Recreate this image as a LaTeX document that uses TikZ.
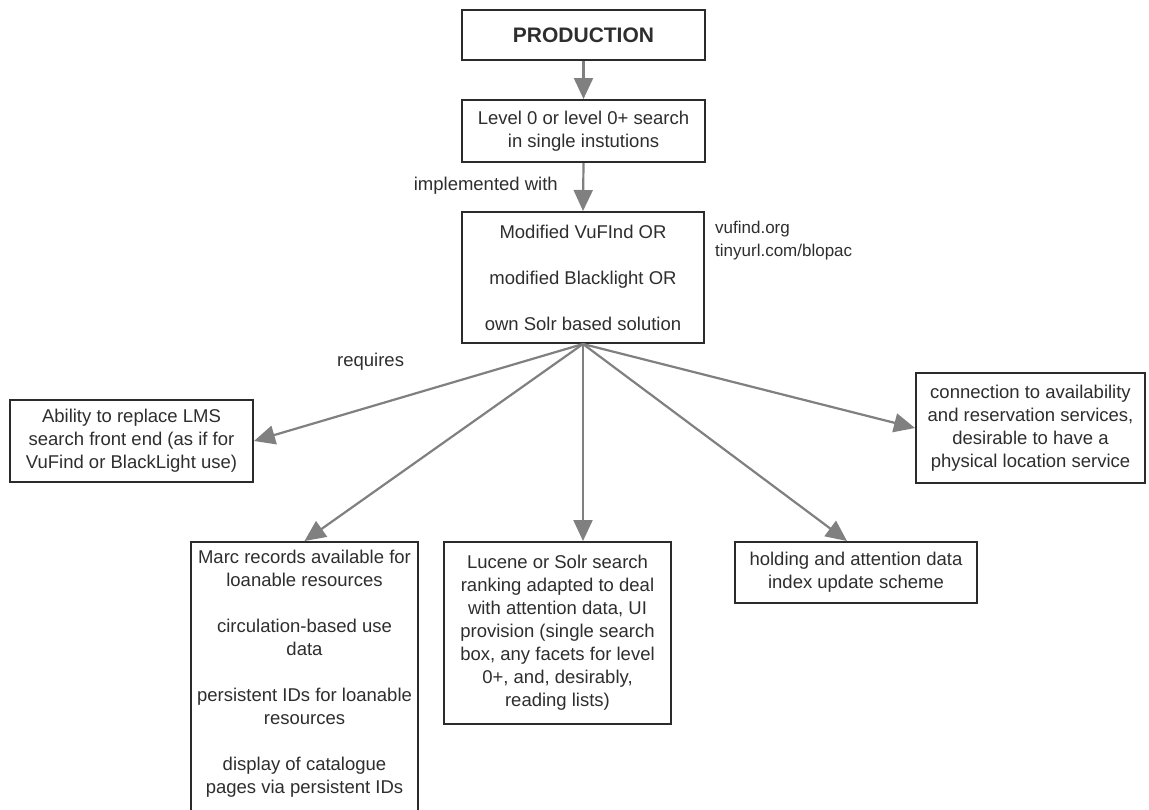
\documentclass[tikz,border=0pt]{standalone}
\usepackage{fontspec}
\setmainfont{Liberation Sans}
\usetikzlibrary{arrows.meta,calc}
\definecolor{txt}{HTML}{2E2E2E}
\definecolor{edge}{HTML}{2B2B2B}
\definecolor{arr}{HTML}{808080}
\tikzset{
 box/.style={draw=edge, line width=2pt, fill=white, align=center, inner sep=0pt, text=txt, font=\fontsize{18.5}{23}\selectfont},
 conn/.style={draw=arr, line width=2.2pt, -{Triangle[length=21pt,width=19pt]}},
 lbl/.style={text=txt, font=\fontsize{18.5}{23}\selectfont, inner sep=0pt},
 small/.style={text=txt, font=\fontsize{17}{23}\selectfont, inner sep=0pt, align=left},
}
\begin{document}
\begin{tikzpicture}[x=1pt,y=-1pt]
\useasboundingbox (0,0) rectangle (1149,809);
\clip (0,0) rectangle (1149,809);
\fill[white] (0,0) rectangle (1149,809);

\node[box, minimum width=243pt, minimum height=50pt, font=\fontsize{21}{25}\selectfont\bfseries] (prod) at (583.5,35) {PRODUCTION};
\node[box, minimum width=243pt, minimum height=62pt] (level) at (583.5,131) {Level 0 or level 0+ search\\in single instutions};
\node[box, minimum width=242pt, minimum height=131pt] (mod) at (583,277.5) {Modified VuFInd OR\\[23pt]modified Blacklight OR\\[23pt]own Solr based solution};
\node[box, minimum width=243pt, minimum height=82pt] (abil) at (131.5,441) {Ability to replace LMS\\search front end (as if for\\VuFind or BlackLight use)};
\node[box, minimum width=229pt, minimum height=110pt] (conn) at (1030.5,428) {connection to availability\\and reservation services,\\desirable to have a\\physical location service};
\node[box, minimum width=227pt, minimum height=276pt, text depth=16pt] (marc) at (304.5,680) {Marc records available for\\loanable resources\\[23pt]circulation-based use\\data\\[23pt]persistent IDs for loanable\\resources\\[23pt]display of catalogue\\pages via persistent IDs};
\node[box, minimum width=227pt, minimum height=182pt] (luc) at (557.5,633) {Lucene or Solr search\\ranking adapted to deal\\with attention data, UI\\provision (single search\\box, any facets for level\\0+, and, desirably,\\reading lists)};
\node[box, minimum width=242pt, minimum height=61pt] (hold) at (856,572.5) {holding and attention data\\index update scheme};

\node[lbl, anchor=east] (impl) at (558,186) {implemented with};
\node[lbl, anchor=west] (req) at (337,362) {requires};
\node[small, anchor=north west] (urls) at (715,221) {vufind.org\\tinyurl.com/blopac};

\draw[conn] (prod.south) -- (level.north);
\draw[conn] (level.south) -- (mod.north);
\draw[conn] (mod.south) -- (abil.east);
\draw[conn] (mod.south) -- (marc.north);
\draw[conn] (mod.south) -- (luc.north -| mod.south);
\draw[conn] (mod.south) -- ($(hold.north)+(-9,0)$);
\draw[conn] (mod.south) -- (conn.west);
\end{tikzpicture}
\end{document}
